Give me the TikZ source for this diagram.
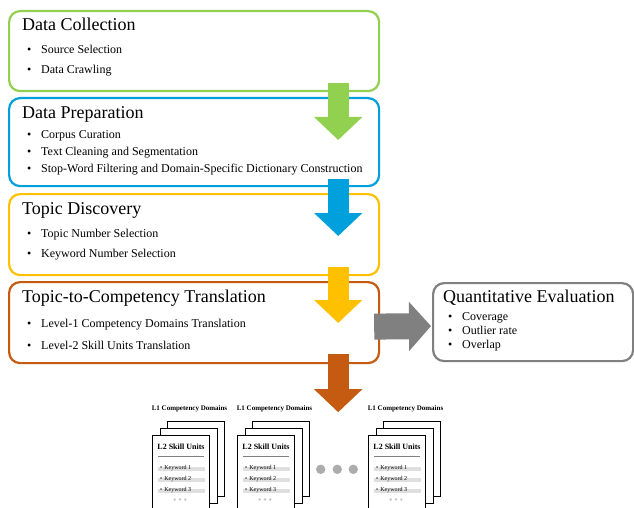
\documentclass[tikz,border=0pt]{standalone}
\usepackage{fontspec}
\setmainfont{Liberation Serif}
\usetikzlibrary{positioning,arrows.meta,calc}
\usepackage{xcolor}
\definecolor{stgreen}{RGB}{146,208,80}
\definecolor{stblue}{RGB}{0,160,220}
\definecolor{styellow}{RGB}{255,192,0}
\definecolor{storange}{RGB}{197,90,17}
\definecolor{stgray}{RGB}{128,128,128}
\newcommand{\bul}{\makebox[14pt][l]{\textbullet}}

\begin{document}
\begin{tikzpicture}[x=1pt,y=-1pt,
  stage/.style={draw=#1,line width=2.2pt,rounded corners=11pt,minimum width=370pt,anchor=north west,inner sep=0pt},
  head/.style={anchor=base west,inner sep=0pt,font=\fontsize{18}{20}\selectfont},
  point/.style={anchor=base west,inner sep=0pt,font=\fontsize{12}{14}\selectfont},
  flow/.style={draw=#1,line width=21pt,-{Triangle[length=23pt,width=47pt]}},
  card/.style={draw,fill=white,line width=1.3pt,minimum width=57pt,minimum height=75pt,anchor=north west,inner sep=0pt},
  tiny/.style={inner sep=0pt,font=\fontsize{6}{7}\selectfont}]
\useasboundingbox (0,0) rectangle (634,508);

% pipeline stages
\node[stage=stgreen,minimum height=80pt] (collect) at (8,10) {};
\node[stage=stblue,minimum height=88pt] (prepare) at (8,97) {};
\node[stage=styellow,minimum height=81pt] (discover) at (8,193) {};
\node[stage=storange,minimum height=81pt] (translate) at (8,281) {};
\node[stage=stgray,minimum width=200pt,minimum height=78pt] (evaluate) at (432,282) {};

\node[head] (collect-t) at ($(collect.north west)+(14,21)$) {Data Collection};
\foreach \txt [count=\i] in {Source Selection,Data Crawling}
  \node[point] (collect-\i) at ($(collect.north west)+(19,24+20*\i)$) {\bul\txt};

\node[head] (prepare-t) at ($(prepare.north west)+(14,21)$) {Data Preparation};
\foreach \txt [count=\i] in {Corpus Curation,Text Cleaning and Segmentation,
    Stop-Word Filtering and Domain-Specific Dictionary Construction}
  \node[point] (prepare-\i) at ($(prepare.north west)+(19,25.2+16.8*\i)$) {\bul\txt};

\node[head] (discover-t) at ($(discover.north west)+(14,21.5)$) {Topic Discovery};
\foreach \txt [count=\i] in {Topic Number Selection,Keyword Number Selection}
  \node[point] (discover-\i) at ($(discover.north west)+(19,24+20*\i)$) {\bul\txt};

\node[head] (translate-t) at ($(translate.north west)+(14,21)$) {Topic-to-Competency Translation};
\foreach \txt [count=\i] in {Level-1 Competency Domains Translation,Level-2 Skill Units Translation}
  \node[point] (translate-\i) at ($(translate.north west)+(19,25+21.5*\i)$) {\bul\txt};

\node[head] (evaluate-t) at ($(evaluate.north west)+(11,20.5)$) {Quantitative Evaluation};
\foreach \txt [count=\i] in {Coverage,Outlier rate,Overlap}
  \node[point] (evaluate-\i) at ($(evaluate.north west)+(16,24+14*\i)$) {\bul\txt};

% block arrows between stages
\draw[flow=stgreen] ($(collect.south east)+(-42,-9)$) -- ($(prepare.north east)+(-42,43)$);
\draw[flow=stblue] ($(prepare.south east)+(-42,-8)$) -- ($(discover.north east)+(-42,43)$);
\draw[flow=styellow] ($(discover.south east)+(-42,-9)$) -- ($(translate.north east)+(-42,42)$);
\draw[flow=storange] ($(translate.south east)+(-42,-10)$) -- ++(0,58) coordinate (down);
\draw[flow=stgray,line width=26pt,-{Triangle[length=22pt,width=48pt]}]
  ($(translate.east)+(-6,4)$) -- ($(evaluate.west)+(-1,4)$);

% competency domain cards
\foreach \x [count=\s] in {152,237,368}{
  \node[inner sep=0pt,font=\bfseries\fontsize{7}{8}\selectfont] (dom-\s) at (\x+37.5,409) {L1 Competency Domains};
  \node[card] (back-\s) at (\x+15,421) {};
  \node[card] (mid-\s) at (\x+7.5,428) {};
  \node[card] (unit-\s) at (\x,435) {};
  \node[inner sep=0pt,font=\bfseries\fontsize{8}{9}\selectfont] (unit-\s-t) at (\x+29,447) {L2 Skill Units};
  \draw[gray,line width=0.6pt] (\x+6,456) -- (\x+52,456);
  \foreach \k in {1,2,3}{
    \fill[gray!25] (\x+6,456+11*\k) rectangle (\x+53,460+11*\k);
    \node[tiny,anchor=base west] (kw-\s-\k) at (\x+8,458+11*\k) {\textbullet\hspace{2pt}Keyword \k};
  }
  \foreach \d in {-5.3,0,5.3}
    \fill[gray!45] (\x+28+\d,499.5) circle (1.3);
}
\foreach \d in {320.7,337.3,353.3}
  \fill[gray!65] (\d,469.3) circle (4.7);
\end{tikzpicture}
\end{document}
